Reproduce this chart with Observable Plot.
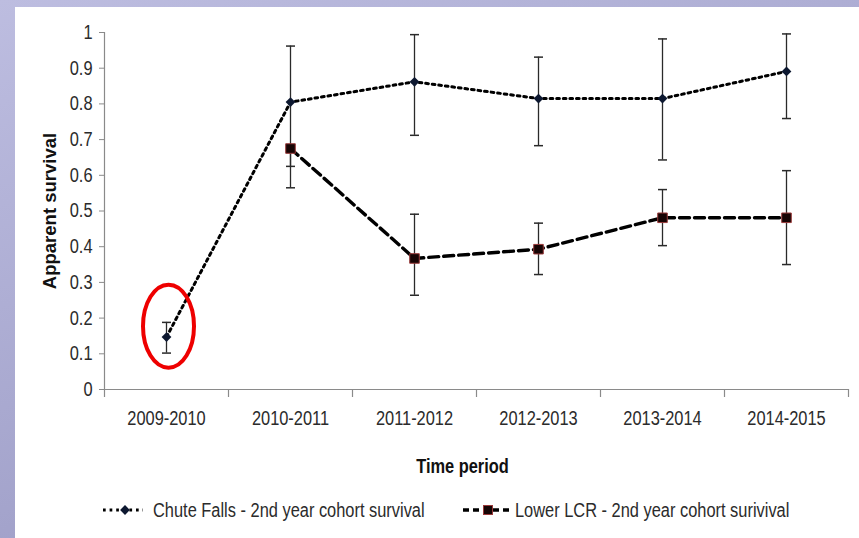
<!DOCTYPE html>
<html><head><meta charset="utf-8">
<script src="https://cdn.jsdelivr.net/npm/d3@7"></script>
<script src="https://cdn.jsdelivr.net/npm/@observablehq/plot@0.6"></script>
<style>
html,body{margin:0;padding:0;}
body{width:859px;height:538px;overflow:hidden;position:relative;background:linear-gradient(160deg,#bdbde0 0%,#a4a4cc 60%,#9494bc 100%);font-family:"Liberation Sans",Arial,sans-serif;}
#panel{position:absolute;left:15px;top:7px;width:844px;height:531px;background:#fff;}
#chart{position:absolute;left:0;top:0;}
#legend{position:absolute;left:0;top:480px;}
</style></head>
<body>
<div id="panel"><div id="chart"></div><div id="legend"></div></div>
<script>
// ---- data ----
const periods = ["2009-2010","2010-2011","2011-2012","2012-2013","2013-2014","2014-2015"];
const chuteValue = [0.147,0.805,0.862,0.815,0.815,0.891];
const chuteLower = [0.102,0.565,0.712,0.683,0.643,0.759];
const chuteUpper = [0.188,0.962,0.994,0.931,0.982,0.996];
const lcrPeriods = ["2010-2011","2011-2012","2012-2013","2013-2014","2014-2015"];
const lcrValue = [0.675,0.367,0.393,0.481,0.481];
const lcrLower = [0.625,0.264,0.322,0.403,0.350];
const lcrUpper = [0.675,0.491,0.466,0.560,0.613];
const yTicks = [0,0.1,0.2,0.3,0.4,0.5,0.6,0.7,0.8,0.9,1];
const seriesNames = ["Chute Falls - 2nd year cohort survival","Lower LCR - 2nd year cohort surivival"];
const xTitle = "Time period";
const yTitle = "Apparent survival";

const chute = periods.map((p,i)=>({period:p,value:chuteValue[i],lo:chuteLower[i],hi:chuteUpper[i]}));
const lcr = lcrPeriods.map((p,i)=>({period:p,value:lcrValue[i],lo:lcrLower[i],hi:lcrUpper[i]}));

const FONT = '"Liberation Sans",Arial,sans-serif';
const NARROW = 0.82; // emulate a narrow face
const W=844,H=480,mL=89,mR=11,mT=25,mB=98;
const step=(W-mL-mR)/periods.length;
const tickLen = 8/(H-mT-mB);
const AX="#8a8a8a";
const cap = {draw(ctx){ctx.moveTo(-4.5,0);ctx.lineTo(4.5,0);}};
const errStroke="#2a2a2a";
const TXT="#2b2b2b";
const DOTS="2.7 3.9", DASHES="10 5";

const chart = Plot.plot({
  width:W,height:H,marginLeft:mL,marginRight:mR,marginTop:mT,marginBottom:mB,
  style:{fontFamily:FONT,fontSize:"20px",color:TXT,background:"transparent",overflow:"visible"},
  x:{type:"point",domain:periods,padding:0.5,label:null},
  y:{domain:[0,1],label:null},
  marks:[
    Plot.axisY(yTicks,{tickSize:5,tickPadding:7,stroke:AX,fill:TXT,fontSize:20,tickFormat:d=>String(d),label:null}),
    Plot.axisX({tickSize:0,tickPadding:21,fill:TXT,fontSize:20,label:null}),
    Plot.ruleY([0],{stroke:AX,strokeWidth:1.2}),
    Plot.ruleX([periods[0]],{dx:-step/2,y1:-tickLen,y2:1,stroke:AX,strokeWidth:1.2}),
    Plot.ruleX(periods.slice(1),{dx:-step/2,y1:-tickLen,y2:0,stroke:AX,strokeWidth:1.2}),
    Plot.ruleX([periods[periods.length-1]],{dx:step/2,y1:-tickLen,y2:0,stroke:AX,strokeWidth:1.2}),
    Plot.text([xTitle],{frameAnchor:"bottom",lineAnchor:"middle",dy:77,dx:-14,fontWeight:"bold",fontSize:20,fill:"#111"}),
    Plot.text([yTitle],{frameAnchor:"left",textAnchor:"middle",lineAnchor:"middle",dx:-54,rotate:-90,fontWeight:"bold",fontSize:18.5,fill:"#111"}),
    // error bars
    Plot.ruleX(chute,{x:"period",y1:"lo",y2:"hi",stroke:errStroke,strokeWidth:1.3}),
    Plot.ruleX(lcr,{x:"period",y1:"lo",y2:"hi",stroke:errStroke,strokeWidth:1.3}),
    Plot.dot(chute,{x:"period",y:"lo",symbol:cap,stroke:errStroke,strokeWidth:1.5}),
    Plot.dot(chute,{x:"period",y:"hi",symbol:cap,stroke:errStroke,strokeWidth:1.5}),
    Plot.dot(lcr,{x:"period",y:"lo",symbol:cap,stroke:errStroke,strokeWidth:1.5}),
    Plot.dot(lcr,{x:"period",y:"hi",symbol:cap,stroke:errStroke,strokeWidth:1.5}),
    // lines
    Plot.line(chute,{x:"period",y:"value",stroke:"#000",strokeWidth:3,strokeDasharray:DOTS}),
    Plot.line(lcr,{x:"period",y:"value",stroke:"#000",strokeWidth:3.4,strokeDasharray:DASHES}),
    // markers
    Plot.dot(chute,{x:"period",y:"value",symbol:"diamond2",r:4.4,fill:"#0d1830",stroke:"none"}),
    Plot.dot(lcr,{x:"period",y:"value",symbol:"square",r:5.4,fill:"#160404",stroke:"#9a3a3a",strokeWidth:1})
  ]
});
document.getElementById("chart").appendChild(chart);

// red annotation ellipse around first Chute Falls point
const sx=chart.scale("x"), sy=chart.scale("y");
d3.select(chart).append("ellipse")
  .attr("cx",sx.apply(periods[0])+2.5).attr("cy",sy.apply(0.176))
  .attr("rx",25.5).attr("ry",41.5)
  .attr("fill","none").attr("stroke","#ee0000").attr("stroke-width",4);

// legend
const lg = d3.select("#legend").append("svg").attr("width",844).attr("height",51)
  .style("font-family",FONT).style("font-size","20px");
const ly=23;
lg.append("line").attr("x1",88).attr("x2",128).attr("y1",ly).attr("y2",ly)
  .attr("stroke","#000").attr("stroke-width",3).attr("stroke-dasharray",DOTS);
lg.append("path").attr("d",d3.symbol(d3.symbolDiamond2, Math.PI*4.4*4.4)()).attr("transform",`translate(110,${ly})`).attr("fill","#0d1830");
lg.append("text").attr("x",138).attr("y",ly).attr("dy","0.35em").attr("fill",TXT).text(seriesNames[0]);
lg.append("line").attr("x1",448).attr("x2",497).attr("y1",ly).attr("y2",ly)
  .attr("stroke","#000").attr("stroke-width",3.4).attr("stroke-dasharray","6 4");
lg.append("rect").attr("x",468.5).attr("y",ly-4.5).attr("width",9).attr("height",9).attr("fill","#160404").attr("stroke","#9a3a3a");
lg.append("text").attr("x",500).attr("y",ly).attr("dy","0.35em").attr("fill",TXT).text(seriesNames[1]);

// narrow horizontal text (no narrow font installed); the rotated title is left as is
function narrow(root){
  root.querySelectorAll("text").forEach(t=>{
    if(t.textContent===yTitle) return;
    const spans=t.querySelectorAll("tspan");
    const targets=spans.length?Array.from(spans):[t];
    targets.forEach(el=>{
      const len=el.getComputedTextLength();
      if(len>0){el.setAttribute("textLength",len*NARROW);el.setAttribute("lengthAdjust","spacingAndGlyphs");}
    });
  });
}
narrow(chart);
narrow(document.querySelector("#legend svg"));
</script>
</body></html>
